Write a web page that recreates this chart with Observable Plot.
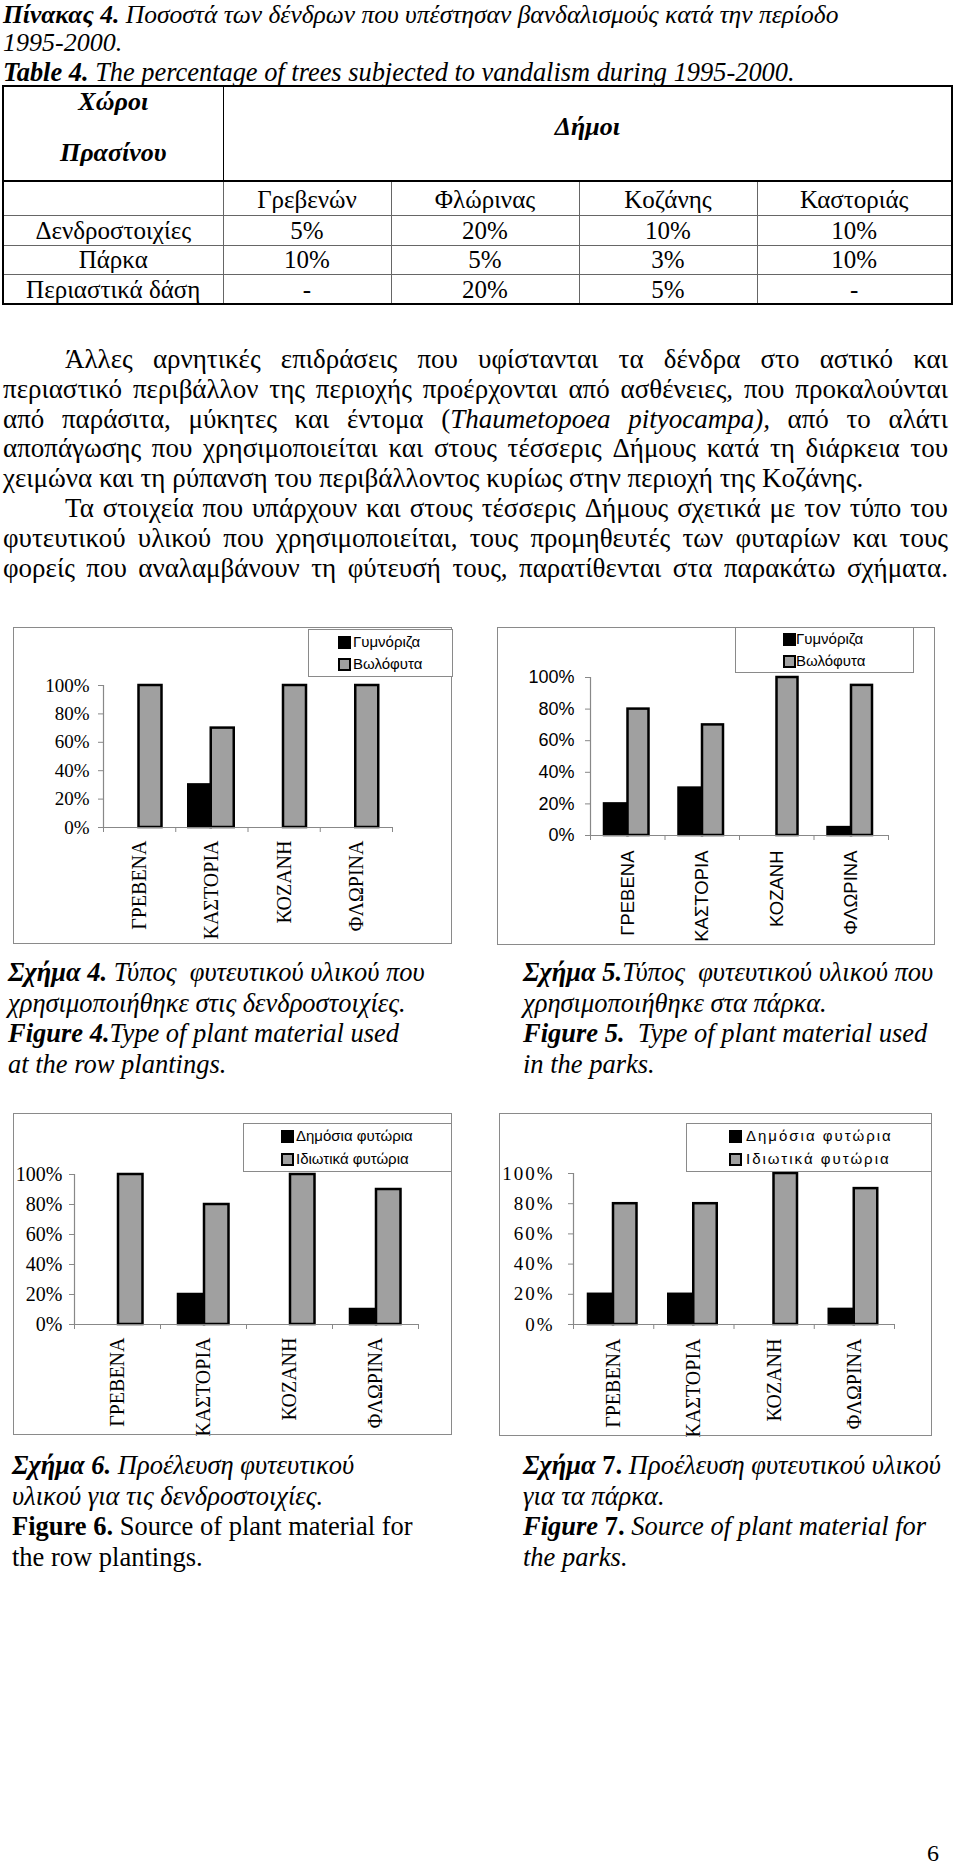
<!DOCTYPE html>
<html>
<head>
<meta charset="utf-8">
<script src="https://cdn.jsdelivr.net/npm/d3@7"></script>
<script src="https://cdn.jsdelivr.net/npm/@observablehq/plot@0.6"></script>
<style>
  html, body { margin: 0; padding: 0; background: #fff; }
  #page { position: relative; width: 960px; height: 1868px; background: #fff; color: #000;
          font-family: "Liberation Serif", "Times New Roman", serif; overflow: hidden; }
  .abs { position: absolute; }
  .title { left: 3px; top: 1px; font-size: 26px; line-height: 28.4px; font-style: italic; white-space: nowrap; }
  table.t { position: absolute; left: 2px; top: 85px; width: 949px; border-collapse: collapse;
            table-layout: fixed; font-family: "Liberation Serif", "Times New Roman", serif; font-size: 25px; border: 2.5px solid #000; }
  table.t td { border: 1.5px solid #666; text-align: center; padding: 0; line-height: 1; white-space: nowrap; }
  table.t tr.hdr td { border-bottom: 2.5px solid #000; border-right-color: #000; font-weight: bold; font-style: italic;
                      vertical-align: top; font-size: 26px; }
  table.t tr.mun td { vertical-align: bottom; padding-bottom: 3px; }
  .para { left: 3px; width: 945px; font-size: 27px; }
  .line { height: 29.8px; line-height: 29.8px; white-space: nowrap; }
  .jl { display: flex; justify-content: space-between; }
  .ind { padding-left: 62px; }
  .chart { position: absolute; outline: 1px solid #8a8a8a; outline-offset: -1px; }
  .chart svg { display: block; background: transparent; }
  .legend { position: absolute; border: 1px solid #8a8a8a; background: #fff; box-sizing: border-box;
            font-family: "Liberation Sans", Arial, sans-serif; font-size: 15px; }
  .legend .sw { position: absolute; width: 13px; height: 13px; box-sizing: border-box; border: 2px solid #000; }
  .legend .lab { position: absolute; line-height: 18px; white-space: nowrap; }
  .cap { font-size: 26.5px; line-height: 30.5px; white-space: nowrap; }
  .pn { left: 927px; top: 1838px; font-size: 24px; line-height: 30px; }
</style>
</head>
<body>
<div id="page"></div>
<script>
// ---------------- DATA ----------------
const titleGreek = "Ποσοστά των δένδρων που υπέστησαν βανδαλισμούς κατά την περίοδο";
const titleGreekLabel = "Πίνακας 4.";
const titleYears = "1995-2000.";
const titleEnglishLabel = "Table 4.";
const titleEnglish = "The percentage of trees subjected to vandalism during 1995-2000.";

const tableCornerTop = "Χώροι";
const tableCornerBottom = "Πρασίνου";
const tableGroupHeader = "Δήμοι";
const tableMunicipalities = ["Γρεβενών", "Φλώρινας", "Κοζάνης", "Καστοριάς"];
const tableSpaces = ["Δενδροστοιχίες", "Πάρκα", "Περιαστικά δάση"];
const tableRowStreets = ["5%", "20%", "10%", "10%"];
const tableRowParks = ["10%", "5%", "3%", "10%"];
const tableRowForests = ["-", "20%", "5%", "-"];

const cities = ["ΓΡΕΒΕΝΑ", "ΚΑΣΤΟΡΙΑ", "ΚΟΖΑΝΗ", "ΦΛΩΡΙΝΑ"];
const seriesType = ["Γυμνόριζα", "Βωλόφυτα"];
const seriesSource = ["Δημόσια φυτώρια", "Ιδιωτικά φυτώρια"];
const yTicks = [0, 20, 40, 60, 80, 100];

const fig4BareRoot = [0, 30, 0, 0];
const fig4RootBall = [100, 70, 100, 100];
const fig5BareRoot = [20, 30, 0, 5];
const fig5RootBall = [80, 70, 100, 95];
const fig6Public = [0, 20, 0, 10];
const fig6Private = [100, 80, 100, 90];
const fig7Public = [20, 20, 0, 10];
const fig7Private = [80, 80, 100, 90];

// ---------------- PAGE TEXT ----------------
const page = document.getElementById("page");
function add(html) { page.insertAdjacentHTML("beforeend", html); }

add(`<div class="abs title"><span style="font-size:25.5px"><b>${titleGreekLabel}</b> ${titleGreek}</span><br>${titleYears}<br><span style="font-size:26.4px"><b>${titleEnglishLabel}</b> ${titleEnglish}</span></div>`);

// table
const dataRows = [tableRowStreets, tableRowParks, tableRowForests];
let tbl = `<table class="t"><colgroup><col style="width:220px"><col style="width:168px"><col style="width:188px"><col style="width:178px"><col style="width:195px"></colgroup>`;
tbl += `<tr class="hdr" style="height:95px"><td><div style="line-height:51px;margin-top:-11px">${tableCornerTop}<br>${tableCornerBottom}</div></td><td colspan="4"><div style="line-height:30px;padding-top:25px">${tableGroupHeader}</div></td></tr>`;
tbl += `<tr class="mun" style="height:34.5px"><td></td>${tableMunicipalities.map(m => `<td>${m}</td>`).join("")}</tr>`;
tableSpaces.forEach((s, i) => {
  tbl += `<tr style="height:29.5px"><td>${s}</td>${dataRows[i].map(v => `<td>${v}</td>`).join("")}</tr>`;
});
tbl += `</table>`;
add(tbl);

// paragraph lines (justified line by line)
const paraLines = [
  {j: true, ind: true, t: "Άλλες αρνητικές επιδράσεις που υφίστανται τα δένδρα στο αστικό και"},
  {j: true, t: "περιαστικό περιβάλλον της περιοχής προέρχονται από ασθένειες, που προκαλούνται"},
  {j: true, t: "από παράσιτα, μύκητες και έντομα (<i>Thaumetopoea</i> <i>pityocampa),</i> από το αλάτι"},
  {j: true, t: "αποπάγωσης που χρησιμοποιείται και στους τέσσερις Δήμους κατά τη διάρκεια του"},
  {j: false, t: "χειμώνα και τη ρύπανση του περιβάλλοντος κυρίως στην περιοχή της Κοζάνης."},
  {j: true, ind: true, t: "Τα στοιχεία που υπάρχουν και στους τέσσερις Δήμους σχετικά με τον τύπο του"},
  {j: true, t: "φυτευτικού υλικού που χρησιμοποιείται, τους προμηθευτές των φυταρίων και τους"},
  {j: true, t: "φορείς που αναλαμβάνουν τη φύτευσή τους, παρατίθενται στα παρακάτω σχήματα."}
];
let ph = `<div class="abs para" style="top:345px">`;
paraLines.forEach(l => {
  const cls = "line" + (l.j ? " jl" : "") + (l.ind ? " ind" : "");
  const inner = l.j ? l.t.split(" ").map(w => `<span>${w}</span>`).join("") : l.t;
  ph += `<div class="${cls}">${inner}</div>`;
});
ph += `</div>`;
add(ph);

// captions
add(`<div class="abs cap" style="left:8px;top:957px"><b><i>Σχήμα 4.</i></b><i> Τύπος&nbsp; φυτευτικού υλικού που</i><br><i>χρησιμοποιήθηκε στις δενδροστοιχίες.</i><br><b><i>Figure 4.</i></b><i>Type of plant material used</i><br><i>at the row plantings.</i></div>`);
add(`<div class="abs cap" style="left:523px;top:957px"><b><i>Σχήμα 5.</i></b><i>Τύπος&nbsp; φυτευτικού υλικού που</i><br><i>χρησιμοποιήθηκε στα πάρκα.</i><br><b><i>Figure 5.</i></b><i>&nbsp; Type of plant material used</i><br><i>in the parks.</i></div>`);
add(`<div class="abs cap" style="left:12px;top:1450px"><b><i>Σχήμα 6.</i></b><i> Προέλευση φυτευτικού</i><br><i>υλικού για τις δενδροστοιχίες.</i><br><b>Figure 6.</b> Source of plant material for<br>the row plantings.</div>`);
add(`<div class="abs cap" style="left:523px;top:1450px"><b><i>Σχήμα</i></b><b> 7.</b><i> Προέλευση φυτευτικού υλικού</i><br><i>για τα πάρκα.</i><br><b><i>Figure</i></b><b> 7.</b><i> Source of plant material for</i><br><i>the parks.</i></div>`);
add(`<div class="abs pn">6</div>`);

// ---------------- CHARTS ----------------
const serif = '"Liberation Serif", "Times New Roman", serif';
const sans = '"Liberation Sans", Arial, sans-serif';
const charts = [
  {left: 13, top: 627, w: 439, h: 317, ml: 90, mr: 60, mt: 58, mb: 117, a: fig4BareRoot, b: fig4RootBall,
   bars: [13, 35.5, 58.5], font: serif, tickFs: 19, xFs: 20, tickPad: 9, xPad: 13, ls: 0,
   names: seriesType, lg: {x: 295, y: 2, w: 145, h: 48, sx: 29, tx: 44, c1: 12, c2: 34, ls: 0}},
  {left: 497, top: 627, w: 438, h: 318, ml: 93, mr: 47, mt: 50, mb: 110, a: fig5BareRoot, b: fig5RootBall,
   bars: [14, 37.5, 58.5], font: sans, tickFs: 18, xFs: 18.5, tickPad: 11, xPad: 15, ls: 0,
   names: seriesType, lg: {x: 238, y: 0, w: 179, h: 46, sx: 47, tx: 60, c1: 11, c2: 33, ls: 0}},
  {left: 13, top: 1113, w: 439, h: 322, ml: 61, mr: 34, mt: 61, mb: 111, a: fig6Public, b: fig6Private,
   bars: [18, 44, 68.5], font: serif, tickFs: 20, xFs: 20, tickPad: 7, xPad: 13, ls: 0,
   names: seriesSource, lg: {x: 230, y: 10, w: 209, h: 49, sx: 37, tx: 52, c1: 12, c2: 35, ls: 0}},
  {left: 499, top: 1113, w: 433, h: 323, ml: 74, mr: 38, mt: 60, mb: 112, a: fig7Public, b: fig7Private,
   bars: [15, 40, 63.5], font: serif, tickFs: 19, xFs: 20, tickPad: 14, xPad: 14, ls: 2,
   names: seriesSource, lg: {x: 187, y: 10, w: 246, h: 49, sx: 42, tx: 59, c1: 12, c2: 35, ls: 2}}
];

const grayFill = "#a0a0a0";
const axisGray = "#888";

charts.forEach(c => {
  const rows = [];
  cities.forEach((city, i) => {
    rows.push({i, city, s: 0, v: c.a[i]});
    rows.push({i, city, s: 1, v: c.b[i]});
  });
  const band = (c.w - c.ml - c.mr) / cities.length;
  const svg = Plot.plot({
    width: c.w, height: c.h,
    marginLeft: c.ml, marginRight: c.mr, marginTop: c.mt, marginBottom: c.mb,
    style: {fontFamily: c.font, fontSize: c.tickFs + "px", color: "#000", background: "transparent", overflow: "visible"},
    x: {type: "linear", domain: [0, cities.length], axis: null, label: null},
    y: {domain: [0, 100], axis: null, label: null},
    marks: [
      Plot.rect(rows.filter(d => d.s === 0 && d.v > 0), {
        x1: d => d.i, x2: d => d.i + 1, y1: 0, y2: "v",
        fill: "#000", stroke: "#000", strokeWidth: 2.5,
        insetLeft: c.bars[0], insetRight: band - c.bars[1]
      }),
      Plot.rect(rows.filter(d => d.s === 1 && d.v > 0), {
        x1: d => d.i, x2: d => d.i + 1, y1: 0, y2: "v",
        fill: grayFill, stroke: "#000", strokeWidth: 2.5,
        insetLeft: c.bars[1], insetRight: band - c.bars[2]
      }),
      Plot.ruleY([0], {stroke: axisGray, strokeWidth: 1.2}),
      Plot.ruleX([0], {stroke: axisGray, strokeWidth: 1.2}),
      Plot.axisY({ticks: yTicks, tickFormat: d => d + "%", tickSize: 5, tickPadding: c.tickPad, label: null,
                  stroke: axisGray, fill: "#000", fontSize: c.tickFs, fontFamily: c.font}),
      Plot.axisX({ticks: d3.range(cities.length + 1), tickFormat: () => "", tickSize: 5, stroke: axisGray, label: null}),
      Plot.axisX({ticks: cities.map((_, i) => i + 0.5), tickFormat: d => cities[Math.round(d - 0.5)], label: null,
                  tickSize: 0, tickRotate: -90, tickPadding: c.xPad, fill: "#000", fontSize: c.xFs, fontFamily: c.font})
    ]
  });
  d3.select(svg).selectAll("text").style("font-family", c.font).style("font-variant", "normal");
  if (c.ls) {
    d3.select(svg).selectAll('g[aria-label="y-axis tick label"] text').style("letter-spacing", c.ls + "px");
  }
  const box = document.createElement("div");
  box.className = "chart";
  box.style.left = c.left + "px";
  box.style.top = c.top + "px";
  box.style.width = c.w + "px";
  box.style.height = c.h + "px";
  box.appendChild(svg);
  const L = c.lg;
  const lgHtml = `<div class="legend" style="left:${L.x}px;top:${L.y}px;width:${L.w}px;height:${L.h}px;letter-spacing:${L.ls}px">
      <div class="sw" style="left:${L.sx}px;top:${L.c1 - 6.5}px;background:#000"></div>
      <div class="lab" style="left:${L.tx}px;top:${L.c1 - 9}px">${c.names[0]}</div>
      <div class="sw" style="left:${L.sx}px;top:${L.c2 - 6.5}px;background:${grayFill}"></div>
      <div class="lab" style="left:${L.tx}px;top:${L.c2 - 9}px">${c.names[1]}</div>
    </div>`;
  box.insertAdjacentHTML("beforeend", lgHtml);
  page.appendChild(box);
});
</script>
</body>
</html>
